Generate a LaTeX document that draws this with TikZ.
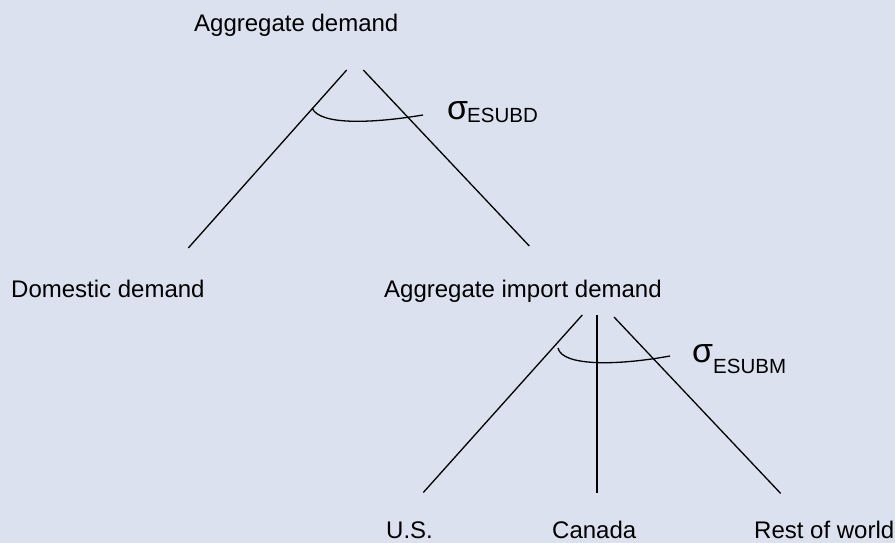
\documentclass[tikz,border=0pt]{standalone}
\usepackage{fontspec}
\setmainfont{Liberation Sans}
\definecolor{bgc}{RGB}{220,225,239}
\begin{document}
\begin{tikzpicture}[x=1pt,y=-1pt,
  lbl/.style={anchor=base west,inner sep=0pt,font=\fontsize{24}{28}\selectfont},
  sig/.style={anchor=base west,inner sep=0pt,font=\fontsize{34}{38}\selectfont},
  sub/.style={anchor=base west,inner sep=0pt,font=\fontsize{20.5}{24}\selectfont},
  ln/.style={line width=1.3pt,line cap=butt}]
\fill[bgc] (0,0) rectangle (895,543);
\useasboundingbox (0,0) rectangle (895,543);
% labels
\node[lbl] (top) at (194,32) {Aggregate demand};
\node[lbl] (dom) at (11,297) {Domestic demand};
\node[lbl] (imp) at (384,297) {Aggregate import demand};
\node[lbl] (us) at (386,538) {U.S.};
\node[lbl] (ca) at (552,538) {Canada};
\node[lbl] (row) at (754,538) {Rest of world};
\node[sig] (s1) at (447,120) {σ};
\node[sub] (s1s) at (467,122) {ESUBD};
\node[sig] (s2) at (692,362) {σ};
\node[sub] (s2s) at (713,373) {ESUBM};
% endpoints
\coordinate (t1) at (346.7,70);
\coordinate (t2) at (363.3,70);
\coordinate (d1) at (188.3,248);
\coordinate (i1) at (529.3,246);
\coordinate (b1) at (582.3,315);
\coordinate (b2) at (597,315);
\coordinate (b3) at (614,317);
\coordinate (u1) at (423.3,492.5);
\coordinate (c1) at (597,492.5);
\coordinate (r1) at (780.7,493.5);
\coordinate (a1s) at (312,108);
\coordinate (a1e) at (423,115);
\coordinate (a2s) at (558,348);
\coordinate (a2e) at (670,356);
% lines
\draw[ln] (t1) -- (d1);
\draw[ln] (t2) -- (i1);
\draw[ln] (b1) -- (u1);
\draw[ln] (b2) -- (c1);
\draw[ln] (b3) -- (r1);
% arcs
\draw[ln] (a1s) .. controls (320,126) and (375,123) .. (a1e);
\draw[ln] (a2s) .. controls (562,366) and (615,366) .. (a2e);
\end{tikzpicture}
\end{document}
